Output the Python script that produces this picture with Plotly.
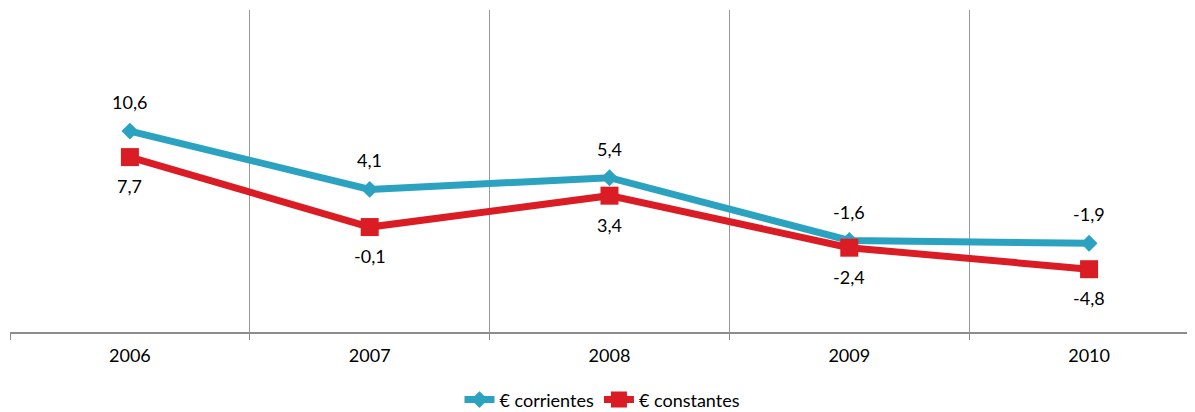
import plotly.graph_objects as go

years = ["2006", "2007", "2008", "2009", "2010"]
corrientes = [10.6, 4.1, 5.4, -1.6, -1.9]
constantes = [7.7, -0.1, 3.4, -2.4, -4.8]

BLUE = "#2BA3C0"
RED = "#DA1C25"
FONT = "Lato"
TXT = "#000000"

xs = list(range(len(years)))

fig = go.Figure()
fig.add_trace(go.Scatter(
    x=xs, y=corrientes, name="€ corrientes", mode="lines+markers",
    line=dict(color=BLUE, width=7),
    marker=dict(symbol="diamond", size=13, color=BLUE),
))
fig.add_trace(go.Scatter(
    x=xs, y=constantes, name="€ constantes", mode="lines+markers",
    line=dict(color=RED, width=7),
    marker=dict(symbol="square", size=18, color=RED),
))

def fmt(v):
    return f"{v:.1f}".replace(".", ",")

annotations = []
for x, v in zip(xs, corrientes):
    annotations.append(dict(x=x, y=v, text=fmt(v), showarrow=False, yshift=29,
                            font=dict(family=FONT, size=18, color=TXT)))
for x, v in zip(xs, constantes):
    annotations.append(dict(x=x, y=v, text=fmt(v), showarrow=False, yshift=-29,
                            font=dict(family=FONT, size=18, color=TXT)))

# The page body adds an 8px margin, so the figure is sized to fit the window.
fig.update_layout(
    width=1187, height=404,
    margin=dict(l=2, r=0, t=2, b=80, autoexpand=False),
    paper_bgcolor="white", plot_bgcolor="white",
    font=dict(family=FONT, size=18, color=TXT),
    showlegend=True,
    legend=dict(orientation="h", x=0.5, xanchor="center",
                yref="container", y=0.03, yanchor="middle",
                font=dict(family=FONT, size=18, color=TXT)),
    annotations=annotations,
    xaxis=dict(
        range=[-0.5, 4.4417],
        tickmode="array", tickvals=xs, ticktext=years,
        showgrid=False, zeroline=False,
        showline=True, linecolor="#8c8c8c", linewidth=2,
        ticks="", ticklabelstandoff=6,
        minor=dict(tickmode="linear", tick0=-0.5, dtick=1, showgrid=True,
                   gridcolor="#9a9a9a", gridwidth=1,
                   ticks="outside", ticklen=6, tickcolor="#8c8c8c", tickwidth=1),
        fixedrange=True,
    ),
    yaxis=dict(
        range=[-11.8, 24.1],
        showgrid=False, zeroline=False, showticklabels=False, showline=False,
        fixedrange=True,
    ),
)

fig.write_html("out.html")
